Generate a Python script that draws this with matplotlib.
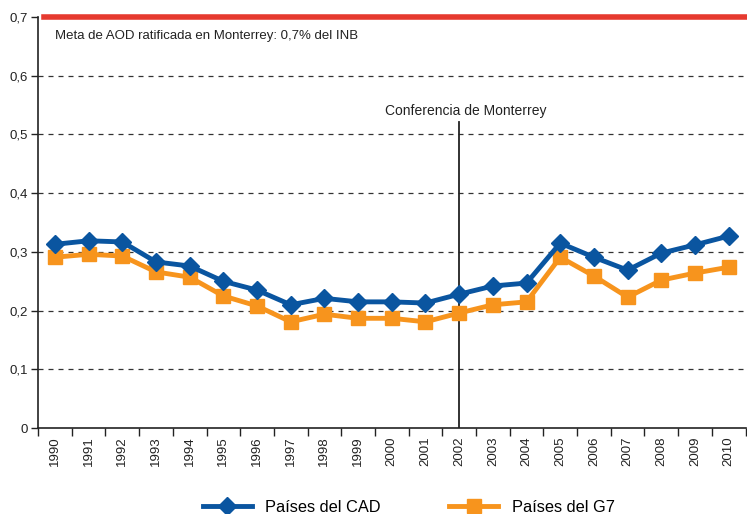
import matplotlib.pyplot as plt
import numpy as np

plt.rcParams['font.family'] = ['Liberation Sans', 'DejaVu Sans']

# datos
years = [str(y) for y in range(1990, 2011)]
cad = [0.313, 0.319, 0.317, 0.283, 0.276, 0.250, 0.235, 0.210, 0.221, 0.215, 0.215,
       0.213, 0.228, 0.242, 0.247, 0.315, 0.291, 0.269, 0.298, 0.312, 0.327]
g7 = [0.291, 0.296, 0.293, 0.266, 0.257, 0.225, 0.208, 0.181, 0.194, 0.187, 0.187,
      0.181, 0.196, 0.210, 0.215, 0.291, 0.259, 0.223, 0.252, 0.264, 0.274]
meta = 0.7
yticks = [0, 0.1, 0.2, 0.3, 0.4, 0.5, 0.6, 0.7]
ytick_labels = ['0', '0,1', '0,2', '0,3', '0,4', '0,5', '0,6', '0,7']
monterrey_year = '2002'

blue = '#0a55a0'
orange = '#f7941d'

fig = plt.figure(figsize=(7.47, 5.14), dpi=100)
ax = fig.add_axes([0.051, 0.167, 0.947, 0.8])

x = np.arange(len(years))
ax.plot(x, cad, color=blue, lw=3.5, marker='D', ms=9, label='Países del CAD', zorder=4)
ax.plot(x, g7, color=orange, lw=3.5, marker='s', ms=9.5, label='Países del G7', zorder=3)

# meta AOD
ax.axhline(meta, xmin=0.008, color='#e63a2f', lw=4, clip_on=False, zorder=5)
ax.text(0.0, 0.668, 'Meta de AOD ratificada en Monterrey: 0,7% del INB',
        fontsize=9.5, color='#222222', va='center', ha='left')

# Conferencia de Monterrey
xm = years.index(monterrey_year)
ax.plot([xm, xm], [0, 0.522], color='#222222', lw=1.3, zorder=2)
ax.text(xm + 0.2, 0.54, 'Conferencia de Monterrey', fontsize=10,
        color='#222222', ha='center', va='center')

# ejes
ax.set_xlim(-0.5, len(years) - 0.5)
ax.set_ylim(0, 0.7)
ax.set_yticks(yticks)
ax.set_yticklabels(ytick_labels, fontsize=9.5, color='#222222')
for yv in yticks[1:-1]:
    ax.axhline(yv, color='#333333', lw=0.9, ls=(0, (4, 4)), zorder=1)

ax.set_xticks(x)
ax.set_xticklabels(years, rotation=90, fontsize=9.5, color='#222222')
ax.tick_params(axis='x', which='major', length=0, pad=6)
ax.set_xticks(np.arange(-0.5, len(years), 1), minor=True)
ax.tick_params(axis='x', which='minor', length=6, width=1, color='#222222')
ax.tick_params(axis='y', length=5, width=1, color='#222222', pad=2)

for s in ['top', 'right']:
    ax.spines[s].set_visible(False)
for s in ['left', 'bottom']:
    ax.spines[s].set_color('#222222')
    ax.spines[s].set_linewidth(1.2)

fig.legend(loc='lower center', ncol=2, frameon=False, fontsize=11.8,
           bbox_to_anchor=(0.547, -0.03), handlelength=3.0, columnspacing=4.2)

fig.savefig('out.png', dpi=100)
